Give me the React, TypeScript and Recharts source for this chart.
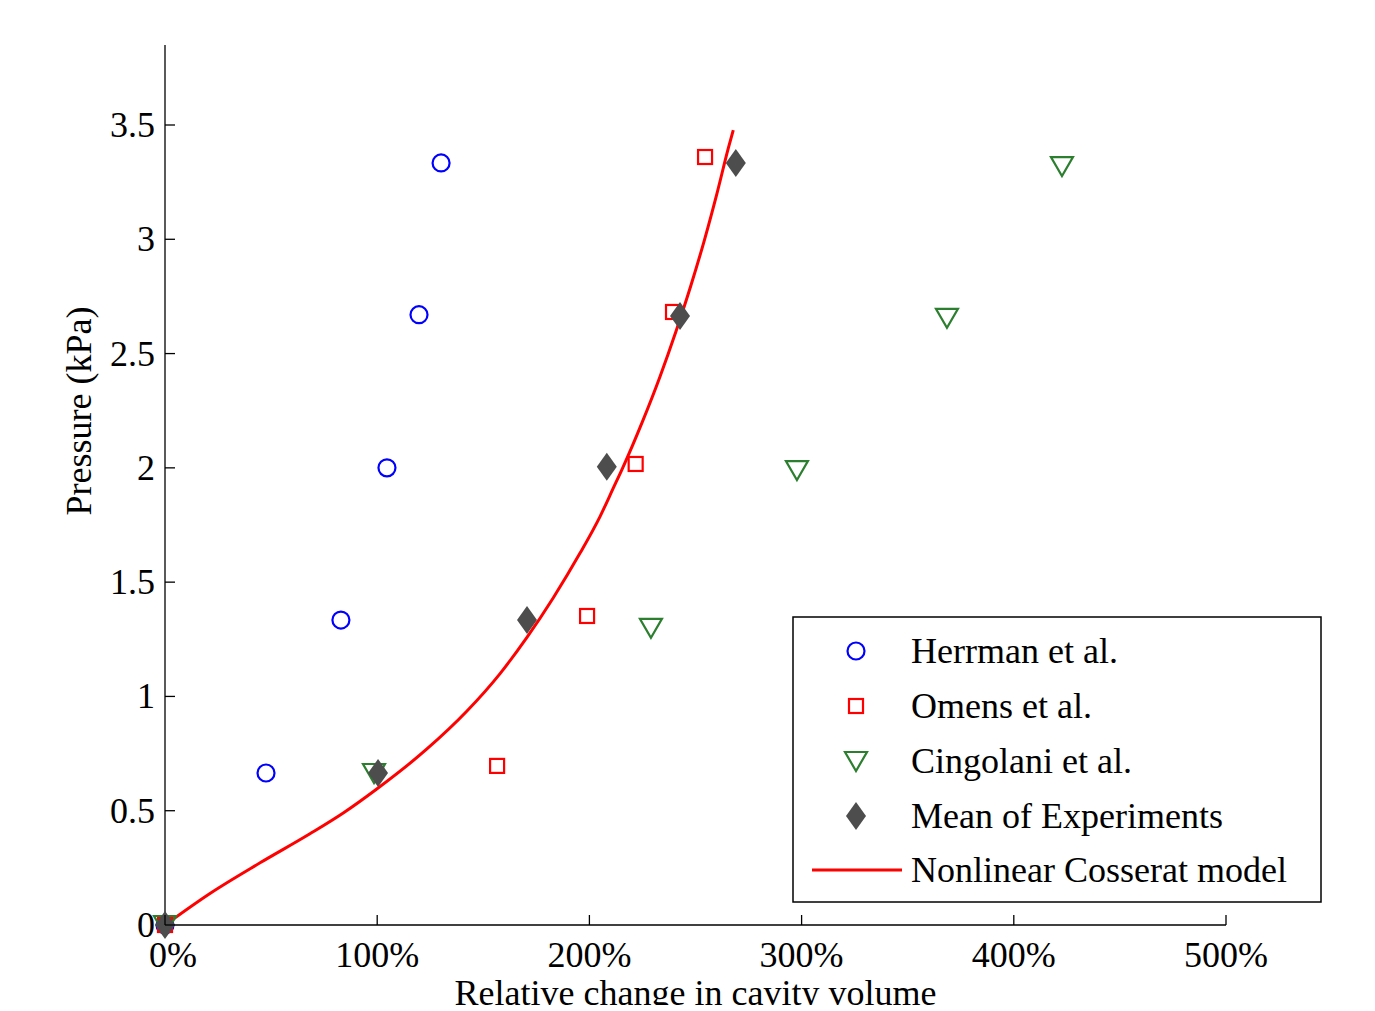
import React from 'react';
import { ComposedChart, Scatter, Line, XAxis, YAxis } from 'recharts';

const FONT = '"Liberation Serif", "Times New Roman", serif';

// relative change in cavity volume (%) / pressure (kPa)
const herrmanX = [0, 47.6, 82.9, 104.6, 119.7, 130.1];
const herrmanP = [0, 0.665, 1.334, 2.0, 2.67, 3.334];

const omensX = [0, 156.5, 198.9, 221.8, 239.4, 254.5];
const omensP = [0, 0.696, 1.352, 2.017, 2.682, 3.36];

const cingolaniX = [0, 98.5, 229, 297.8, 368.5, 422.7];
const cingolaniP = [0, 0.665, 1.3, 1.99, 2.656, 3.32];

const meanX = [0, 100.4, 170.6, 208.2, 242.7, 269];
const meanP = [0, 0.665, 1.334, 2.005, 2.664, 3.334];

const modelX = [0, 21.2, 44.8, 68.3, 84, 99.8, 123.3, 142.2, 157.9, 170.4, 183, 195.6, 205, 211.3, 215.7, 224.9, 233.3, 240.9, 247.9, 254.3, 260.1, 265.5, 267.8];
const modelP = [0, 0.138, 0.272, 0.399, 0.49, 0.595, 0.769, 0.935, 1.1, 1.256, 1.432, 1.627, 1.787, 1.912, 2.0, 2.2, 2.4, 2.6, 2.8, 3.0, 3.2, 3.4, 3.478];

const xTicks = [0, 100, 200, 300, 400, 500];
const yTicks = [0, 0.5, 1, 1.5, 2, 2.5, 3, 3.5];

const legendLabels = ['Herrman et al.', 'Omens et al.', 'Cingolani et al.', 'Mean of Experiments', 'Nonlinear Cosserat model'];

const zip = (xs: number[], ys: number[]) => xs.map((x, i) => ({ x, y: ys[i] }));

const BLUE = '#0000FF';
const RED = '#FF0000';
const GREEN = '#2D7F30';
const GRAY = '#4D4D4D';

const CircleMark = ({ cx, cy }: any) => (
    <circle cx={cx} cy={cy} r={8.5} fill="none" stroke={BLUE} strokeWidth={2.2} />
);
const SquareMark = ({ cx, cy }: any) => (
    <rect x={cx - 7} y={cy - 7} width={14} height={14} fill="none" stroke={RED} strokeWidth={2.2} />
);
const TriangleMark = ({ cx, cy }: any) => (
    <polygon points={`${cx - 11},${cy - 9} ${cx + 11},${cy - 9} ${cx},${cy + 10}`} fill="none" stroke={GREEN} strokeWidth={2.2} />
);
const DiamondMark = ({ cx, cy }: any) => (
    <polygon points={`${cx},${cy - 14} ${cx + 10},${cy} ${cx},${cy + 14} ${cx - 10},${cy}`} fill={GRAY} />
);

const XTick = ({ x, y, payload }: any) => {
    // the 0% label sits a bit to the right so it clears the y tick "0"
    const tx = payload.value === 0 ? x + 8 : x;
    return (
        <g>
            <line x1={x} y1={y} x2={x} y2={y - 10} stroke="#000" strokeWidth={1.3} />
            <text x={tx} y={y + 42} textAnchor="middle" fontSize={36} fontFamily={FONT} fill="#000">{payload.value}%</text>
        </g>
    );
};

const YTick = ({ x, y, payload }: any) => (
    <g>
        <line x1={x} y1={y} x2={x + 10} y2={y} stroke="#000" strokeWidth={1.3} />
        <text x={x - 10} y={y + 12} textAnchor="end" fontSize={36} fontFamily={FONT} fill="#000">{payload.value}</text>
    </g>
);

const LegendBox = () => {
    const rows = [651, 706, 761, 816, 870];
    const mx = 856;
    return (
        <svg width={1375} height={1011} style={{ position: 'absolute', left: 0, top: 0, pointerEvents: 'none' }}>
            <rect x={793} y={617} width={528} height={285} fill="#fff" stroke="#000" strokeWidth={1.5} />
            <CircleMark cx={mx} cy={rows[0]} />
            <SquareMark cx={mx} cy={rows[1]} />
            <TriangleMark cx={mx} cy={rows[2]} />
            <DiamondMark cx={mx} cy={rows[3]} />
            <line x1={812} y1={rows[4]} x2={902} y2={rows[4]} stroke={RED} strokeWidth={3} />
            {legendLabels.map((t, i) => (
                <text key={t} x={911} y={rows[i] + 12} fontSize={36} fontFamily={FONT} fill="#000">{t}</text>
            ))}
        </svg>
    );
};

export default function App() {
    return (
        <div style={{ position: 'absolute', left: 0, top: 0, width: 1375, height: 1011, background: '#fff' }}>
            <div style={{ position: 'absolute', left: 0, top: 0, width: 1375, height: 1005, overflow: 'hidden' }}>
                <ComposedChart width={1375} height={1011} margin={{ top: 45, right: 149, bottom: 26, left: 85 }}>
                    <XAxis
                        type="number"
                        dataKey="x"
                        domain={[0, 500]}
                        ticks={xTicks}
                        height={60}
                        tickSize={0}
                        tickMargin={0}
                        tickLine={false}
                        axisLine={{ stroke: '#000', strokeWidth: 1.3 }}
                        tick={<XTick />}
                        interval={0}
                        label={{
                            content: ({ viewBox }: any) => (
                                <text x={viewBox.x + viewBox.width / 2} y={viewBox.y + 80} textAnchor="middle" fontSize={36} fontFamily={FONT} fill="#000">
                                    Relative change in cavity volume
                                </text>
                            ),
                        }}
                    />
                    <YAxis
                        type="number"
                        dataKey="y"
                        domain={[0, 3.85]}
                        ticks={yTicks}
                        width={80}
                        tickSize={0}
                        tickMargin={0}
                        tickLine={false}
                        axisLine={{ stroke: '#000', strokeWidth: 1.3 }}
                        tick={<YTick />}
                        interval={0}
                        label={{
                            content: ({ viewBox }: any) => {
                                const cx = viewBox.x + 6;
                                const cy = viewBox.y + viewBox.height / 2 - 74;
                                return (
                                    <text x={cx} y={cy} transform={`rotate(-90 ${cx} ${cy})`} textAnchor="middle" fontSize={36} fontFamily={FONT} fill="#000">
                                        Pressure (kPa)
                                    </text>
                                );
                            },
                        }}
                    />
                    <Scatter name="Herrman et al." data={zip(herrmanX, herrmanP)} shape={(p: any) => <CircleMark {...p} />} isAnimationActive={false} />
                    <Scatter name="Omens et al." data={zip(omensX, omensP)} shape={(p: any) => <SquareMark {...p} />} isAnimationActive={false} />
                    <Scatter name="Cingolani et al." data={zip(cingolaniX, cingolaniP)} shape={(p: any) => <TriangleMark {...p} />} isAnimationActive={false} />
                    <Scatter name="Mean of Experiments" data={zip(meanX, meanP)} shape={(p: any) => <DiamondMark {...p} />} isAnimationActive={false} />
                    <Line
                        name="Nonlinear Cosserat model"
                        data={zip(modelX, modelP)}
                        dataKey="y"
                        type="monotone"
                        stroke={RED}
                        strokeWidth={3}
                        dot={false}
                        activeDot={false}
                        isAnimationActive={false}
                    />
                </ComposedChart>
            </div>
            <LegendBox />
        </div>
    );
}
